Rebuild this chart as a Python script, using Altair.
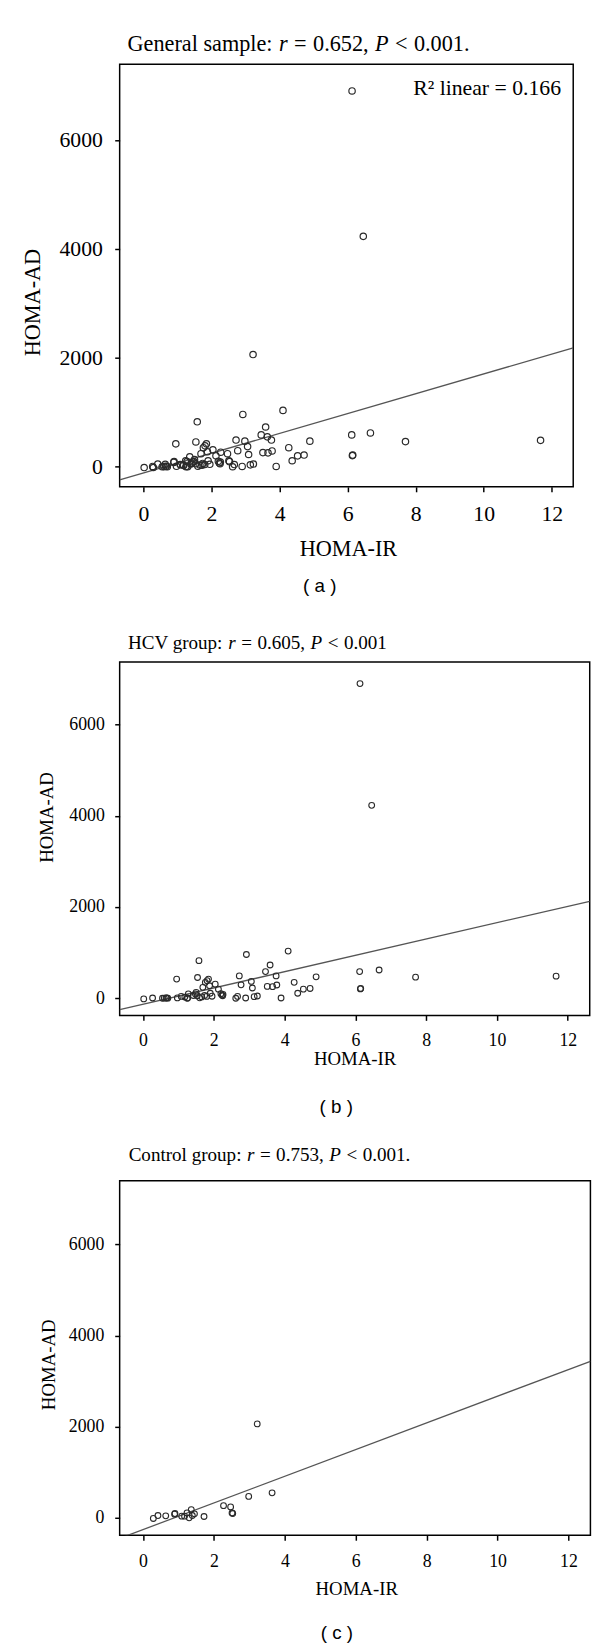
import altair as alt
import pandas as pd

# ---------------- data ----------------
hcv_x = [0.02, 0.27, 0.55, 0.60, 0.65, 0.67, 0.70,
         0.95, 0.97, 1.08, 1.18, 1.25, 1.26, 1.28,
         1.42, 1.48, 1.50, 1.53, 1.54, 1.58, 1.60,
         1.66, 1.69, 1.74, 1.76, 1.80, 1.81, 1.85,
         1.88, 1.90, 1.95, 2.04, 2.13, 2.20, 2.23,
         2.25, 2.26, 2.62, 2.67, 2.72, 2.77, 2.90,
         2.92, 3.06, 3.09, 3.14, 3.23, 3.46, 3.51,
         3.59, 3.66, 3.76, 3.78, 3.90, 4.10, 4.27,
         4.37, 4.53, 4.72, 4.89, 6.12, 6.13, 6.14,
         6.15, 6.46, 6.67, 7.70, 11.67]
hcv_y = [-15, 5, 0, 3, 5, 8, 2,
         420, 8, 40, 25, 0, 8, 95,
         60, 95, 130, 55, 455, 825, 10,
         30, 240, 60, 350, 40, 385, 420,
         275, 110, 45, 310, 200, 100, 70,
         55, 85, 0, 40, 490, 295, 5,
         960, 370, 225, 35, 50, 585, 260,
         730, 255, 490, 290, 5, 1035, 350,
         110, 200, 215, 470, 585, 6900, 205,
         215, 4230, 620, 462, 485]

ctrl_x = [0.29, 0.42, 0.64, 0.89, 0.90, 1.09, 1.17, 1.24, 1.30, 1.36,
          1.39, 1.45, 1.72, 2.27, 2.47, 2.51, 2.53, 2.98, 3.22, 3.64]
ctrl_y = [-14, 50, 43, 80, 94, 36, 36, 108, 0, 181,
          51, 87, 29, 267, 239, 108, 94, 470, 2060, 549]

# regression lines (intercept, slope): a, b, c
fit_intercept = [-115, -133, -258]
fit_slope = [182.0, 179.0, 292.6]

x_ticks = [0, 2, 4, 6, 8, 10, 12]
y_ticks = [0, 2000, 4000, 6000]

# title pieces: (text, italic, space before)
title_a = [("General sample:", False, False), ("r", True, True), ("=", False, True),
           ("0.652,", False, True), ("P", True, True), ("<", False, True), ("0.001.", False, True)]
title_b = [("HCV group:", False, False), ("r", True, True), ("=", False, True),
           ("0.605,", False, True), ("P", True, True), ("<", False, True), ("0.001", False, True)]
title_c = [("Control group:", False, False), ("r", True, True), ("=", False, True),
           ("0.753,", False, True), ("P", True, True), ("<", False, True), ("0.001.", False, True)]
r2_label = "R\u00b2 linear = 0.166"
captions = ["( a )", "( b )", "( c )"]

SERIF = "Liberation Serif"
SANS = "Liberation Sans"

# Times-compatible advance widths (per 1000 em) for laying out mixed-style titles
REG = {' ': 250, ':': 278, ',': 250, '.': 250, '=': 564, '<': 564,
       'G': 722, 'e': 444, 'n': 500, 'r': 333, 'a': 444, 'l': 278, 's': 389,
       'm': 778, 'p': 500, 'H': 722, 'C': 667, 'V': 722, 'g': 500, 'o': 500,
       'u': 500, 't': 278}
ITA = {'r': 389, 'P': 611}
SPACE_SCALE = 1.15   # the original typesetting uses slightly wider word spaces


def text_width(s, italic, fs):
    tbl = ITA if italic else REG
    return sum(tbl.get(ch, 500) for ch in s) * fs / 1000.0


ONE = pd.DataFrame({"k": [0]})


def panel(df, fi, fs_, P):
    xs = alt.Scale(domain=P["xdom"], nice=False, zero=False)
    ys = alt.Scale(domain=P["ydom"], nice=False, zero=False)
    xaxis = alt.Axis(values=x_ticks, format="d", title="HOMA-IR", grid=False, domain=False,
                     tickSize=5, tickWidth=1.5, tickColor="black",
                     labelFont=SERIF, labelFontSize=P["tick_fs"], labelColor="black",
                     labelPadding=P["xlp"], labelFlush=False, labelOverlap=False,
                     titleFont=SERIF, titleFontSize=P["ax_fs"], titleFontWeight="normal",
                     titleColor="black", titleX=P["xtx"], titleY=P["xty"],
                     titleBaseline="middle", titleAlign="center")
    yaxis = alt.Axis(values=y_ticks, format="d", title="HOMA-AD", grid=False, domain=False,
                     tickSize=5, tickWidth=1.5, tickColor="black",
                     labelFont=SERIF, labelFontSize=P["tick_fs"], labelColor="black",
                     labelPadding=P["ylp"], labelFlush=False, labelOverlap=False,
                     titleFont=SERIF, titleFontSize=P["ax_fs"], titleFontWeight="normal",
                     titleColor="black", titleX=P["ytx"], titleY=P["yty"],
                     titleBaseline="middle", titleAlign="center", titleAngle=270)
    xd = P["xdom"]
    fit_df = pd.DataFrame({"x": xd, "y": [fi + fs_ * v for v in xd]})
    line = alt.Chart(fit_df).mark_line(color="#555555", strokeWidth=1.3, clip=True).encode(
        x=alt.X("x:Q", scale=xs, axis=xaxis), y=alt.Y("y:Q", scale=ys, axis=yaxis))
    pts = alt.Chart(df).mark_point(shape="circle", filled=False, size=P["msize"],
                                   strokeWidth=P["msw"], color="#2a2a2a", opacity=1,
                                   clip=True).encode(
        x=alt.X("x:Q", scale=xs, axis=xaxis), y=alt.Y("y:Q", scale=ys, axis=yaxis))
    layers = [line, pts]
    # title made of regular and italic pieces
    fsz = P["title_fs"]
    cx = P["tx"]
    for seg, it, sp in P["title"]:
        if sp:
            cx += 250 * fsz / 1000.0 * SPACE_SCALE
        layers.append(alt.Chart(ONE).mark_text(
            text=seg, align="left", baseline="middle", font=SERIF,
            fontSize=fsz, fontStyle="italic" if it else "normal",
            color="black").encode(x=alt.value(cx), y=alt.value(P["ty"])))
        cx += text_width(seg, it, fsz)
    if P.get("r2"):
        layers.append(alt.Chart(ONE).mark_text(
            text=P["r2"], align="right", baseline="middle", font=SERIF,
            fontSize=22, color="black").encode(x=alt.value(P["r2x"]), y=alt.value(P["r2y"])))
    layers.append(alt.Chart(ONE).mark_text(
        text=P["cap"], align="center", baseline="middle", font=SANS,
        fontSize=19, color="black").encode(x=alt.value(P["capx"]), y=alt.value(P["capy"])))
    # invisible extent marker that fixes the panel's place on the page
    layers.append(alt.Chart(ONE).mark_rule(color="white", strokeWidth=1).encode(
        x=alt.value(P["ex"]), y=alt.value(P["et"]), y2=alt.value(P["eb"])))
    return alt.layer(*layers).properties(width=P["w"], height=P["h"])


df_all = pd.DataFrame({"x": hcv_x + ctrl_x, "y": hcv_y + ctrl_y})
df_hcv = pd.DataFrame({"x": hcv_x, "y": hcv_y})
df_ctrl = pd.DataFrame({"x": ctrl_x, "y": ctrl_y})

PA = dict(xdom=[-0.70, 12.63], ydom=[-369, 7391], w=459, h=427.7,
          tick_fs=22, ax_fs=22.5, title_fs=22.5, xlp=12, ylp=12.5,
          xtx=231, xty=62, ytx=-88, yty=240.7, msize=42, msw=1.2,
          title=title_a, tx=8, ty=-20.6, r2=r2_label, r2x=446.7, r2y=23.7,
          cap=captions[0], capx=202.5, capy=528.4,
          ex=-111.5, et=-45.3, eb=566.7)
PB = dict(xdom=[-0.66, 12.62], ydom=[-376, 7373], w=475.7, h=357.6,
          tick_fs=18, ax_fs=19, title_fs=19.3, xlp=11.5, ylp=10.5,
          xtx=237.8, xty=43.4, ytx=-73.5, yty=156.8, msize=34, msw=1.1,
          title=title_b, tx=8.4, ty=-19,
          cap=captions[1], capx=219.2, capy=450,
          ex=-94.8, et=-35.7, eb=479.3)
PC = dict(xdom=[-0.66, 12.62], ydom=[-383, 7395], w=476.4, h=358.7,
          tick_fs=18, ax_fs=19, title_fs=19.3, xlp=13, ylp=11,
          xtx=239.4, xty=54, ytx=-72, yty=185.7, msize=34, msw=1.1,
          title=title_c, tx=9.1, ty=-25.6,
          cap=captions[2], capx=219.9, capy=457.7,
          ex=-94.1, et=-42.3, eb=470.7)

a = panel(df_all, fit_intercept[0], fit_slope[0], PA)
b = panel(df_hcv, fit_intercept[1], fit_slope[1], PB)
c = panel(df_ctrl, fit_intercept[2], fit_slope[2], PC)

chart = alt.concat(a, b, c, columns=1, spacing=0, align="none").properties(
    padding=0, background="white"
).configure_view(stroke="black", strokeWidth=1.5)

chart.save("out.html", embed_options={"renderer": "svg", "actions": False})
